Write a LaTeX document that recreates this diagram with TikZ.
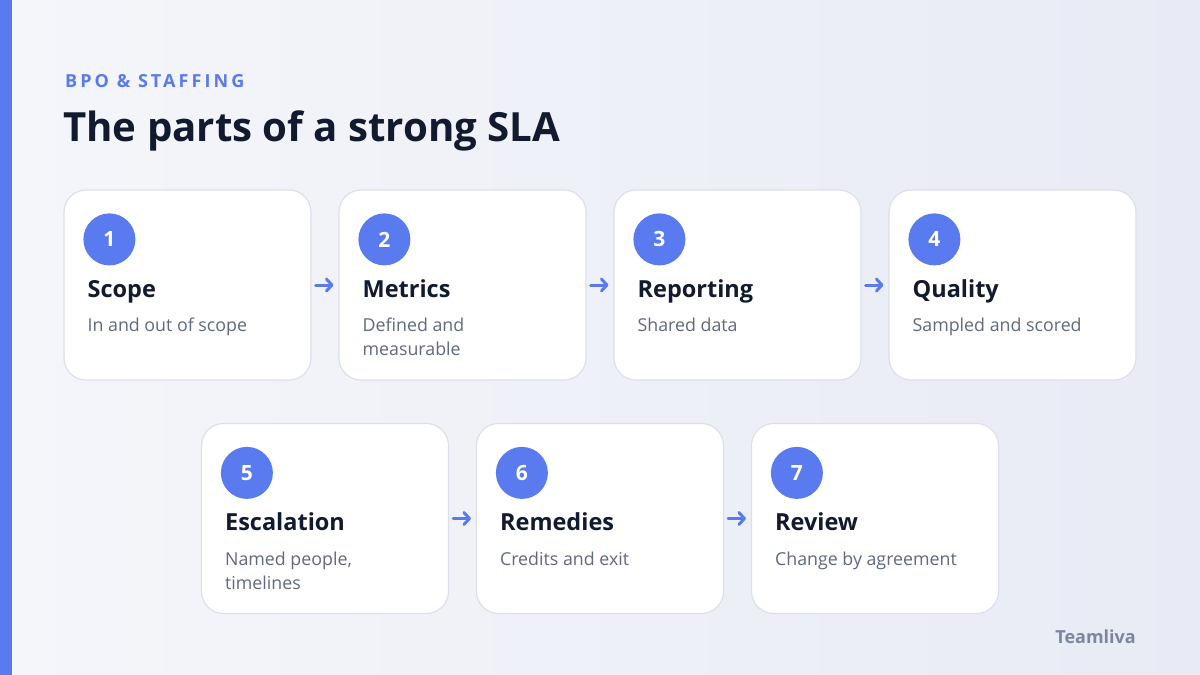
\documentclass[tikz,border=0pt]{standalone}
\usepackage{fontspec}
\setmainfont{Open Sans}
\usetikzlibrary{calc,arrows.meta}
\definecolor{accent}{HTML}{5A7BF0}
\definecolor{ink}{HTML}{111A2E}
\definecolor{muted}{HTML}{5E6A80}
\definecolor{edge}{HTML}{DCE0EA}
\definecolor{bgA}{HTML}{F5F6FA}
\definecolor{bgB}{HTML}{E8EBF5}
\definecolor{brand}{HTML}{7A879E}
\tikzset{
  card/.style={draw=edge, line width=1.2pt, fill=white, rounded corners=22pt,
    minimum width=247pt, minimum height=190pt, inner sep=0pt},
  badge/.style={circle, fill=accent, minimum size=52pt, inner sep=0pt,
    text=white, font=\fontsize{21}{21}\selectfont\bfseries},
  ctitle/.style={anchor=base west, inner sep=0pt, text=ink,
    font=\fontsize{23.5}{23.5}\selectfont\bfseries},
  cdesc/.style={anchor=north west, inner sep=0pt, text=muted, align=left,
    font=\fontsize{17.8}{24}\selectfont},
  flow/.style={draw=accent, line width=3pt, line cap=round, line join=round,
    -{Straight Barb[length=5.5pt,width=12pt,line cap=round,line join=round]},
    shorten >=5pt, shorten <=4pt}
}
\newcommand{\cardcontent}[4]{%
  \node[badge] (#1b) at ($(#1.north west)+(46,50)$) {#2};
  \node[ctitle] (#1t) at ($(#1.north west)+(24,108)$) {#3};
  \node[cdesc] (#1d) at ($(#1.north west)+(24,125.2)$) {\strut #4};
}
\begin{document}
\begin{tikzpicture}[x=1pt,y=-1pt]
\useasboundingbox (0,0) rectangle (1200,675);
\shade[left color=bgA, right color=bgB] (0,0) rectangle (1200,675);
\fill[accent] (0,0) rectangle (12,675);
\node[anchor=base west, inner sep=0pt, text=accent,
  font=\fontsize{18}{18}\selectfont\bfseries\addfontfeatures{LetterSpace=17}] (kicker) at (65,87) {BPO \& STAFFING};
\node[anchor=base west, inner sep=0pt, text=ink,
  font=\fontsize{40.2}{40}\selectfont\bfseries] (title) at (63,141) {The parts of a strong SLA};
% row 1
\node[card] (c1) at (187.5,285) {};
\node[card] (c2) at (462.5,285) {};
\node[card] (c3) at (737.5,285) {};
\node[card] (c4) at (1012.5,285) {};
% row 2
\node[card] (c5) at (325,518.5) {};
\node[card] (c6) at (600,518.5) {};
\node[card] (c7) at (875,518.5) {};
\cardcontent{c1}{1}{Scope}{In and out of scope}
\cardcontent{c2}{2}{Metrics}{Defined and\\\strut measurable}
\cardcontent{c3}{3}{Reporting}{Shared data}
\cardcontent{c4}{4}{Quality}{Sampled and scored}
\cardcontent{c5}{5}{Escalation}{Named people,\\\strut timelines}
\cardcontent{c6}{6}{Remedies}{Credits and exit}
\cardcontent{c7}{7}{Review}{Change by agreement}
\draw[flow] (c1.east) -- (c2.west);
\draw[flow] (c2.east) -- (c3.west);
\draw[flow] (c3.east) -- (c4.west);
\draw[flow] (c5.east) -- (c6.west);
\draw[flow] (c6.east) -- (c7.west);
\node[anchor=base east, inner sep=0pt, text=brand,
  font=\fontsize{18}{18}\selectfont\bfseries] (logo) at (1136,643) {Teamliva};
\end{tikzpicture}
\end{document}
